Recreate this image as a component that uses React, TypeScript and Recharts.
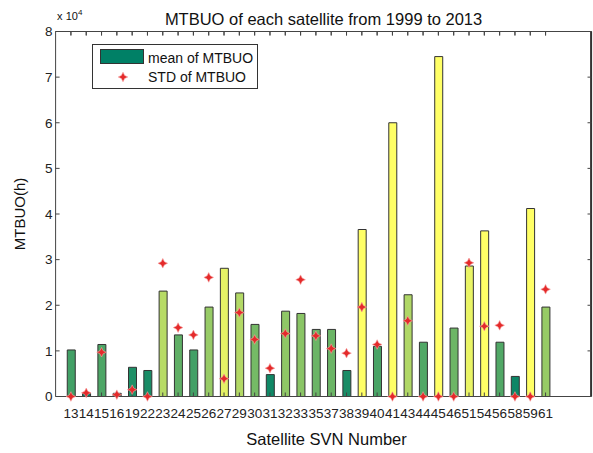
import React from 'react';
import { ComposedChart, Bar, Scatter, XAxis, YAxis, Cell, Legend, ReferenceLine } from 'recharts';

const svnLabels = ['13','14','15','16','19','22','23','24','25','26','27','29','30','31','32','33','35','37','38','39','40','41','43','44','45','46','51','54','56','58','59','61'];
const meanMTBUO = [1.02,0.07,1.14,0.07,0.64,0.57,2.31,1.35,1.02,1.96,2.81,2.27,1.58,0.48,1.87,1.82,1.47,1.47,0.57,3.66,1.10,6.00,2.23,1.19,7.45,1.50,2.86,3.63,1.19,0.44,4.12,1.96];
const stdMTBUO = [0,0.08,0.97,0.04,0.15,0,2.92,1.51,1.35,2.61,0.39,1.84,1.25,0.62,1.38,2.56,1.33,1.05,0.95,1.96,1.14,0,1.66,0,0,0,2.93,1.54,1.56,0,0,2.35];
const yTicks = [0,1,2,3,4,5,6,7,8];
const xTicks = svnLabels.map((_, i) => i + 1);
const X_MAX = 35;
const Y_MAX = 8;

const data = svnLabels.map((svn, i) => ({ idx: i + 1, svn, mean: meanMTBUO[i], std: stdMTBUO[i] }));

// MATLAB "summer" colormap
const summer = (v: number) => {
  const t = Math.max(0, Math.min(1, (v - 0.3) / 2.8));
  const r = Math.round(255 * t);
  const g = Math.round(255 * (0.5 + t / 2));
  const b = Math.round(255 * 0.4);
  return `rgb(${r},${g},${b})`;
};

const starPath = (cx: number, cy: number, s = 4.8, w = 1.6) =>
  `M${cx},${cy - s}L${cx + w},${cy - w}L${cx + s},${cy}L${cx + w},${cy + w}L${cx},${cy + s}L${cx - w},${cy + w}L${cx - s},${cy}L${cx - w},${cy - w}Z`;

const Star = (props: any) => {
  const { cx, cy } = props;
  if (cx == null || cy == null) return null;
  return <path d={starPath(cx, cy)} fill="#e42a2a" stroke="#f6a0a0" strokeOpacity={0.6} strokeWidth={1} strokeLinejoin="round" />;
};

const LegendBox = () => (
  <svg width={167} height={46} style={{ display: 'block' }}>
    <rect x={0.5} y={0.5} width={165} height={44} fill="#fff" stroke="#333" />
    <rect x={8.5} y={5.5} width={43} height={14} fill={summer(0)} stroke="#333" />
    <text x={56} y={18.5} fontSize={14} fill="#111">mean of MTBUO</text>
    <path d={starPath(31, 33)} fill="#e42a2a" stroke="#f6a0a0" strokeOpacity={0.6} strokeWidth={1} strokeLinejoin="round" />
    <text x={56} y={38} fontSize={14} fill="#111">STD of MTBUO</text>
  </svg>
);

// Y axis title plus the MATLAB exponent note, positioned from the axis viewBox
const YLabel = (props: any) => {
  const vb = props.viewBox || { x: 0, y: 31.5, width: 55.6, height: 365 };
  const cy = vb.y + vb.height / 2;
  return (
    <g>
      <text x={20} y={cy} transform={`rotate(-90, 20, ${cy})`} textAnchor="middle" dy="0.35em" fontSize={15} fill="#111">MTBUO(h)</text>
      <text x={vb.x + vb.width + 1.5} y={vb.y - 12} fontSize={11} fill="#111">
        x 10<tspan dy={-5} fontSize={8}>4</tspan>
      </text>
    </g>
  );
};

export default function App() {
  return (
    <div style={{ position: 'absolute', left: 0, top: 0, background: '#fff', fontFamily: '"Liberation Sans", Arial, sans-serif' }}>
      <ComposedChart width={593} height={453} data={data} margin={{ top: 11.5, right: 1.5, bottom: 0, left: 0 }}>
        <XAxis
          dataKey="idx"
          type="number"
          domain={[0, X_MAX]}
          ticks={xTicks}
          interval={0}
          tickFormatter={(v: number) => svnLabels[v - 1] ?? ''}
          tickSize={-4}
          tickMargin={15.5}
          height={56.5}
          stroke="#444"
          tick={{ fontSize: 13.5, fill: '#222' }}
          label={{ value: 'Satellite SVN Number', position: 'insideBottom', offset: 8, dx: 3, fontSize: 16.5, fill: '#111' }}
        />
        <XAxis
          xAxisId="top"
          orientation="top"
          dataKey="idx"
          type="number"
          domain={[0, X_MAX]}
          ticks={xTicks}
          interval={0}
          tickFormatter={() => ''}
          tickSize={-4}
          tickMargin={0}
          height={20}
          stroke="#444"
          label={{ value: 'MTBUO of each satellite from 1999 to 2013', position: 'insideBottom', offset: 6.5, fontSize: 16.5, fill: '#111' }}
        />
        <YAxis
          type="number"
          domain={[0, Y_MAX]}
          ticks={yTicks}
          interval={0}
          tickSize={-4}
          tickMargin={7}
          width={55.6}
          stroke="#444"
          tick={{ fontSize: 13.5, fill: '#222' }}
          label={<YLabel />}
        />
        <ReferenceLine y={Y_MAX} stroke="#333" strokeWidth={1.2} ifOverflow="visible" />
        <ReferenceLine x={X_MAX} stroke="#333" strokeWidth={1.2} ifOverflow="visible" />
        {xTicks.map((t) => (
          <ReferenceLine key={`tt${t}`} segment={[{ x: t, y: Y_MAX }, { x: t, y: Y_MAX - 0.085 }]} stroke="#444" ifOverflow="visible" />
        ))}
        {yTicks.map((t) => (
          <ReferenceLine key={`rt${t}`} segment={[{ x: X_MAX, y: t }, { x: X_MAX - 0.26, y: t }]} stroke="#444" ifOverflow="visible" />
        ))}
        <Bar dataKey="mean" barSize={8} stroke="#333" strokeWidth={1} isAnimationActive={false}>
          {data.map((d, i) => (
            <Cell key={i} fill={summer(d.mean)} />
          ))}
        </Bar>
        <Scatter dataKey="std" shape={<Star />} isAnimationActive={false} />
        <Legend
          layout="horizontal"
          verticalAlign="middle"
          align="center"
          wrapperStyle={{ position: 'absolute', left: 92, top: 44, width: 167, height: 46 }}
          content={() => <LegendBox />}
        />
      </ComposedChart>
      {/* plot frame (top and right edges of the MATLAB axes box) */}
      <div
        style={{
          position: 'absolute',
          left: 56,
          top: 31,
          width: 535,
          height: 365,
          borderTop: '1px solid #444',
          borderRight: '1px solid #444',
          boxSizing: 'border-box',
          pointerEvents: 'none',
        }}
      />
    </div>
  );
}
